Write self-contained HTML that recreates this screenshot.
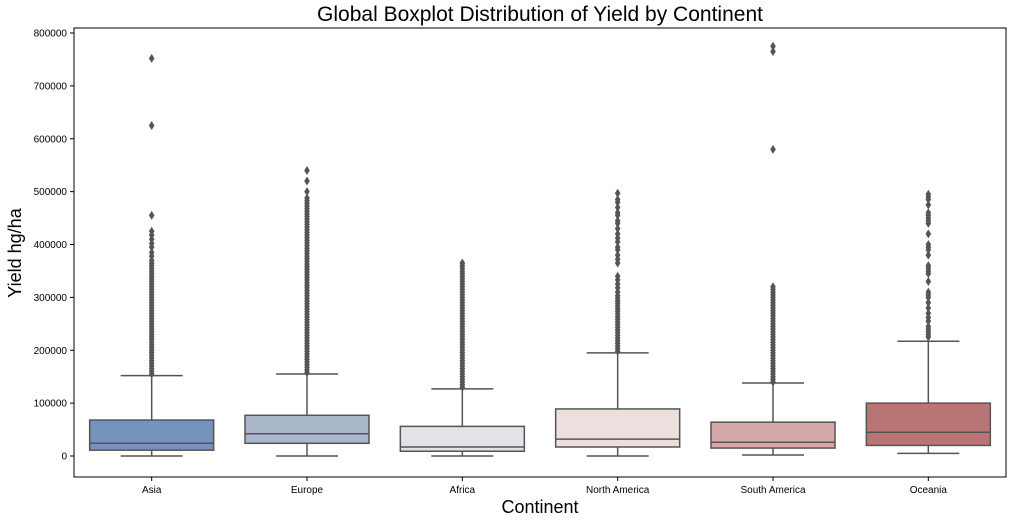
<!DOCTYPE html>
<html><head><meta charset="utf-8"><style>
body{margin:0;background:#fff;font-family:"Liberation Sans",sans-serif}
svg{display:block}
</style></head><body>
<svg id="c" width="1013" height="523">
<text x="540" y="21" font-size="21" text-anchor="middle">Global Boxplot Distribution of Yield by Continent</text>
<text x="540" y="513" font-size="18" text-anchor="middle">Continent</text>
<text x="21" y="253" font-size="18" text-anchor="middle" transform="rotate(-90 21 253)">Yield hg/ha</text>
<g id="plot"></g>
</svg>
<script>
const categories=["Asia","Europe","Africa","North America","South America","Oceania"];
const colors=["#7693bd","#aab6ca","#e3e2e6","#eedfdf","#d5a9a9","#b97574"];
const whiskerLow=[0,0,0,0,2000,5000];
const q1=[11000,24000,9000,17000,15000,20000];
const median=[24000,42000,17000,32000,26000,45000];
const q3=[68000,77000,56000,89000,64000,100000];
const whiskerHigh=[152000,155000,127000,195000,138000,217000];
const outliers=[
[155000,160000,165000,170000,175000,180000,185000,190000,195000,200000,205000,210000,215000,220000,225000,230000,235000,240000,245000,250000,255000,260000,265000,270000,275000,280000,285000,290000,295000,300000,305000,310000,315000,320000,325000,330000,335000,340000,345000,350000,355000,360000,365000,370000,378000,385000,395000,402000,410000,418000,425000,455000,625000,752000],
[158000,163000,168000,173000,178000,183000,188000,193000,198000,203000,208000,213000,218000,223000,228000,233000,238000,243000,248000,253000,258000,263000,268000,273000,278000,283000,288000,293000,298000,303000,308000,313000,318000,323000,328000,333000,338000,343000,348000,353000,358000,363000,368000,373000,378000,383000,388000,393000,398000,403000,408000,413000,418000,423000,428000,433000,438000,443000,448000,453000,458000,463000,468000,473000,478000,483000,488000,500000,520000,540000],
[130000,135000,140000,145000,150000,155000,160000,165000,170000,175000,180000,185000,190000,195000,200000,205000,210000,215000,220000,225000,230000,235000,240000,245000,250000,255000,260000,265000,270000,275000,280000,285000,290000,295000,300000,305000,310000,315000,320000,325000,330000,335000,340000,345000,350000,355000,360000,365000],
[198000,203000,208000,213000,218000,223000,228000,233000,238000,243000,248000,253000,258000,263000,268000,273000,278000,283000,288000,293000,298000,303000,310000,318000,325000,333000,340000,365000,372000,380000,390000,395000,405000,412000,420000,430000,440000,445000,455000,460000,470000,480000,485000,497000],
[140000,145000,150000,155000,160000,165000,170000,175000,180000,185000,190000,195000,200000,205000,210000,215000,220000,225000,230000,235000,240000,245000,250000,255000,260000,265000,270000,275000,280000,285000,290000,295000,300000,305000,310000,315000,320000,580000,765000,775000],
[225000,230000,235000,240000,245000,255000,262000,270000,280000,290000,300000,305000,310000,330000,345000,350000,355000,360000,380000,390000,395000,400000,420000,440000,445000,450000,455000,460000,475000,485000,490000,495000]
];
const yTicks=[0,100000,200000,300000,400000,500000,600000,700000,800000];
const L=74,R=1006,T=28,B=477;
const y=v=>456-v*(423/800000);
const x=i=>L+(R-L)/categories.length*(i+0.5);
const bw=124;
const g=document.getElementById('plot');
const ns="http://www.w3.org/2000/svg";
function mk(t,a,p){const e=document.createElementNS(ns,t);for(const k in a)e.setAttribute(k,a[k]);(p||g).appendChild(e);return e;}
yTicks.forEach(v=>{
 mk('line',{x1:L-4,x2:L,y1:y(v),y2:y(v),stroke:'#000'});
 const t=mk('text',{x:L-7,y:y(v)+3.5,'font-size':10,'text-anchor':'end'});
 t.textContent=v;
 
 
});
categories.forEach((c,i)=>{
 const cx=x(i);
 const grp=mk('g',{});
 
 
 const st={stroke:'#555','stroke-width':1.5};
 mk('line',{x1:cx,x2:cx,y1:y(whiskerLow[i]),y2:y(q1[i]),...st},grp);
 mk('line',{x1:cx,x2:cx,y1:y(q3[i]),y2:y(whiskerHigh[i]),...st},grp);
 mk('line',{x1:cx-bw/4,x2:cx+bw/4,y1:y(whiskerLow[i]),y2:y(whiskerLow[i]),...st},grp);
 mk('line',{x1:cx-bw/4,x2:cx+bw/4,y1:y(whiskerHigh[i]),y2:y(whiskerHigh[i]),...st},grp);
 mk('rect',{x:cx-bw/2,y:y(q3[i]),width:bw,height:y(q1[i])-y(q3[i]),fill:colors[i],...st},grp);
 mk('line',{x1:cx-bw/2,x2:cx+bw/2,y1:y(median[i]),y2:y(median[i]),...st},grp);
 outliers[i].forEach(v=>{
  const yy=y(v);
  const d=mk('path',{d:`M${cx} ${yy-4.5}L${cx+2.8} ${yy}L${cx} ${yy+4.5}L${cx-2.8} ${yy}Z`,fill:'#555'},grp);
  
  
 });
 mk('line',{x1:cx,x2:cx,y1:B,y2:B+4,stroke:'#000'});
 const t=mk('text',{x:cx,y:B+16,'font-size':10,'text-anchor':'middle'});
 t.textContent=c;
 
 
});
const fr=mk('rect',{x:L,y:T,width:R-L,height:B-T,fill:'none',stroke:'#000','stroke-width':1});


</script>
</body></html>
